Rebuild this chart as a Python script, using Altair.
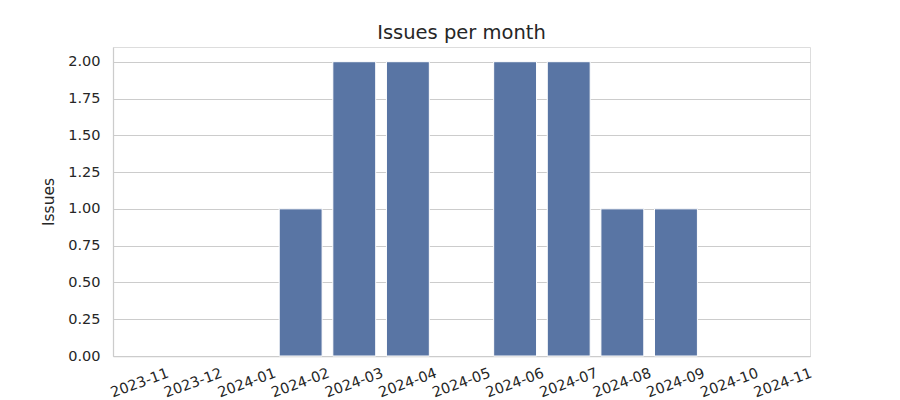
import altair as alt
import pandas as pd

months = ["2023-11", "2023-12", "2024-01", "2024-02", "2024-03", "2024-04", "2024-05",
          "2024-06", "2024-07", "2024-08", "2024-09", "2024-10", "2024-11"]
issues = [0, 0, 0, 1, 2, 2, 0, 2, 2, 1, 1, 0, 0]
y_ticks = [0, 0.25, 0.5, 0.75, 1.0, 1.25, 1.5, 1.75, 2.0]

df = pd.DataFrame({"month": months, "issues": issues})

FONT = "DejaVu Sans"
TXT = "#262626"

chart = alt.Chart(df).transform_filter(
    alt.datum.issues > 0
).mark_bar(color="#5975a4", stroke="white", strokeWidth=1).encode(
    x=alt.X("month:N", title=None,
            scale=alt.Scale(domain=months, paddingInner=0.2, paddingOuter=0.1),
            axis=alt.Axis(labelAngle=-20, labelAlign="center", labelBaseline="middle",
                          labelPadding=27, ticks=False, grid=False, domainColor="#cccccc",
                          domainWidth=1.25, labelFont=FONT, labelFontSize=14.5, labelColor=TXT)),
    y=alt.Y("issues:Q", title="Issues", scale=alt.Scale(domain=[0, 2.1], nice=False),
            axis=alt.Axis(values=y_ticks, format=".2f", ticks=False, grid=True,
                          gridColor="#cccccc", gridWidth=1, domainColor="#cccccc",
                          domainWidth=1.25, labelPadding=13, labelFont=FONT, labelFontSize=14.5,
                          labelColor=TXT, titleFont=FONT, titleFontSize=15.5,
                          titleFontWeight="normal", titleColor=TXT, titlePadding=11)),
).properties(
    width=697, height=309,
    title=alt.TitleParams("Issues per month", font=FONT, fontSize=19.5, fontWeight="normal",
                          color=TXT, offset=4),
    autosize=alt.AutoSizeParams(type="none"),
    padding={"left": 113, "top": 47, "right": 90, "bottom": 44},
).configure_view(strokeWidth=0, strokeOpacity=0).configure(background="white")

chart.save("out.html", embed_options={"renderer": "svg", "actions": False})
